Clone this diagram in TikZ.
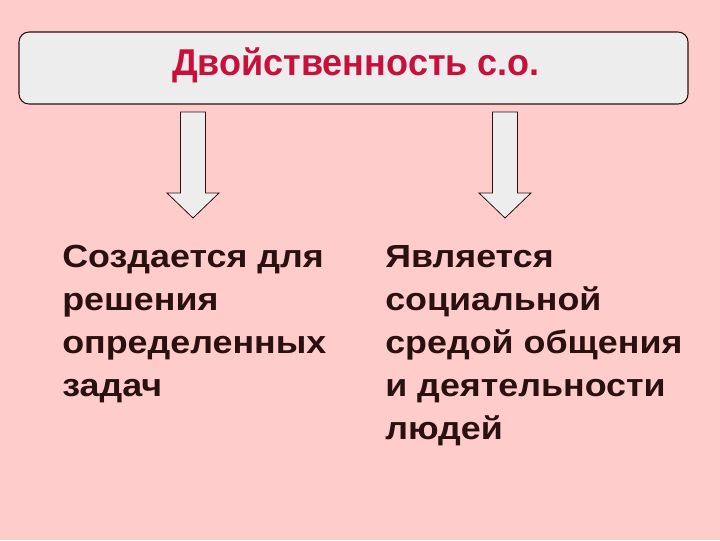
\documentclass[tikz,border=0pt]{standalone}
\usepackage{fontspec}
\setmainfont{Liberation Sans}
\newfontfamily\widesans{Liberation Sans}[FakeStretch=1.12]
\newfontfamily\narrowsans{Liberation Sans}[FakeStretch=0.965]
\usepackage{tikz}
\usetikzlibrary{positioning,calc}

\definecolor{slidepink}{HTML}{FFCCCC}
\definecolor{panelgray}{HTML}{EDEDED}
\definecolor{titlered}{HTML}{C8103C}
\definecolor{inkbrown}{HTML}{2B1010}

\tikzset{
  panel/.style={draw=inkbrown, line width=0.8pt, fill=panelgray, rounded corners=7.5pt},
  blockarrow/.style={draw=inkbrown, line width=0.6pt, fill=panelgray},
  bodytext/.style={anchor=north west, inner sep=0pt, align=left, text=inkbrown,
    font=\widesans\fontsize{24}{32.25}\selectfont\bfseries}
}

\begin{document}
\begin{tikzpicture}[x=0.75pt,y=-0.75pt]
\fill [slidepink] (0,0) rectangle (720,540);
\useasboundingbox (0,0) rectangle (720,540);
\coordinate (TL) at (19,32);
\coordinate (BR) at (688,104);
\draw [panel] (TL) rectangle (BR);
\node (title) [anchor=base, inner sep=0pt, text=titlered,
  font=\narrowsans\fontsize{28}{32}\selectfont\bfseries] at (356,75) {Двойственность с.о.};
% block arrows
\foreach \x/\name in {193/left,505/right} {
  \coordinate (\name top) at (\x,112);
  \coordinate (\name tip) at (\x,218);
  \draw [blockarrow] ($(\name top)+(-12.5,0)$) -- ($(\name top)+(12.5,0)$)
    -- ($(\name top)+(12.5,81)$) -- ($(\name top)+(26,81)$) -- (\name tip)
    -- ($(\name top)+(-26,81)$) -- ($(\name top)+(-12.5,81)$) -- cycle;
}
\node (goal) [bodytext] at (62,245) {Создается для\\решения\\определенных\\задач};
\node (milieu) [bodytext] at (385,245) {Является\\социальной\\средой общения\\и деятельности\\людей};
\end{tikzpicture}
\end{document}
